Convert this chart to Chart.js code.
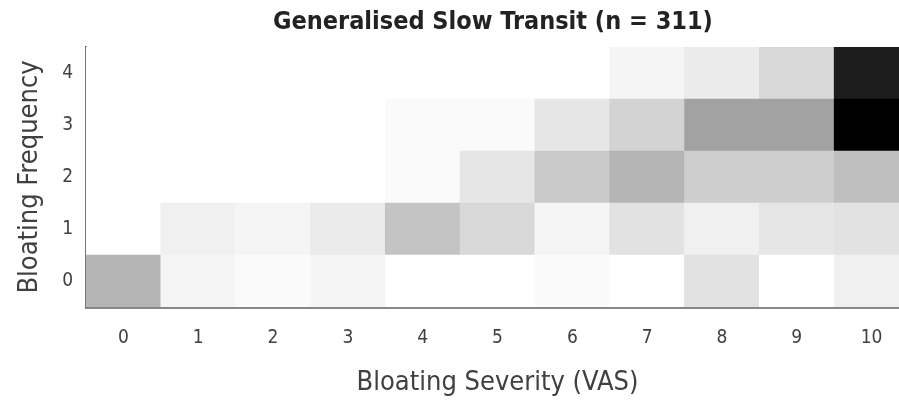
<!DOCTYPE html>
<html>
<head>
<meta charset="utf-8">
<script src="https://cdn.jsdelivr.net/npm/chart.js@4.4.1/dist/chart.umd.min.js"></script>
<style>
  html, body { margin: 0; padding: 0; background: #fff; overflow: hidden; }
  #wrap { width: 899px; height: 404px; overflow: hidden; }
  #box { width: 986px; height: 404px; }
</style>
</head>
<body>
<div id="wrap"><div id="box"><canvas id="chart"></canvas></div></div>
<script>
const severity = ["0", "1", "2", "3", "4", "5", "6", "7", "8", "9", "10"];
const frequency = [0, 1, 2, 3, 4];

// patient counts per frequency row, one value per severity column
const freq0 = [15, 2, 1, 2, 0, 0, 1, 0, 6, 0, 3];
const freq1 = [0, 3, 2, 4, 12, 8, 2, 6, 3, 5, 6];
const freq2 = [0, 0, 0, 0, 1, 5, 11, 15, 10, 10, 13];
const freq3 = [0, 0, 0, 0, 1, 1, 5, 9, 19, 19, 52];
const freq4 = [0, 0, 0, 0, 0, 0, 0, 2, 4, 8, 46];

const rows = [freq0, freq1, freq2, freq3, freq4];
const maxCount = 52;
const fontFamily = '"Liberation Sans Narrow", "DejaVu Sans Condensed", "Open Sans", sans-serif';

function shade(v) {
  const g = Math.round(255 * (1 - v / maxCount));
  return `rgb(${g}, ${g}, ${g})`;
}

const datasets = rows.map((counts, r) => ({
  label: "Frequency " + frequency[r],
  data: counts.map(() => [frequency[r] - 0.5, frequency[r] + 0.5]),
  backgroundColor: counts.map(shade),
  borderWidth: 0,
  grouped: false,
  barPercentage: 1,
  categoryPercentage: 1,
}));

new Chart(document.getElementById("chart").getContext("2d"), {
  type: "bar",
  data: { labels: severity, datasets: datasets },
  options: {
    responsive: true,
    maintainAspectRatio: false,
    animation: false,
    layout: { padding: 0 },
    plugins: {
      legend: { display: false },
      tooltip: { enabled: false },
      title: {
        display: true,
        text: "Generalised Slow Transit (n = 311)",
        color: "#222",
        font: { family: fontFamily, size: 25, weight: "bold" },
        padding: { top: 7, bottom: 10 },
      },
    },
    scales: {
      x: {
        type: "category",
        offset: true,
        grid: { display: false, drawTicks: false },
        border: { display: true, color: "#888", width: 3 },
        ticks: { color: "#404040", font: { family: fontFamily, size: 19 }, padding: 20 },
        title: {
          display: true,
          text: "Bloating Severity (VAS)",
          color: "#404040",
          font: { family: fontFamily, size: 27 },
          padding: { top: 0, bottom: 5 },
        },
        afterFit: (scale) => { scale.height = 97; },
      },
      y: {
        type: "linear",
        min: -0.5,
        max: 4.5,
        afterBuildTicks: (scale) => { scale.ticks = frequency.map((v) => ({ value: v })); },
        grid: { display: false, drawTicks: false },
        border: { display: true, color: "#777", width: 2 },
        ticks: { color: "#404040", font: { family: fontFamily, size: 19 }, padding: 13 },
        title: {
          display: true,
          text: "Bloating Frequency",
          color: "#404040",
          font: { family: fontFamily, size: 27 },
          padding: { top: 14, bottom: 0 },
        },
        afterFit: (scale) => { scale.width = 86; },
      },
      spare: {
        type: "linear",
        position: "right",
        grid: { display: false, drawTicks: false },
        border: { display: false },
        ticks: { display: false },
        afterFit: (scale) => { scale.width = 77; },
      },
    },
  },
});
</script>
</body>
</html>
